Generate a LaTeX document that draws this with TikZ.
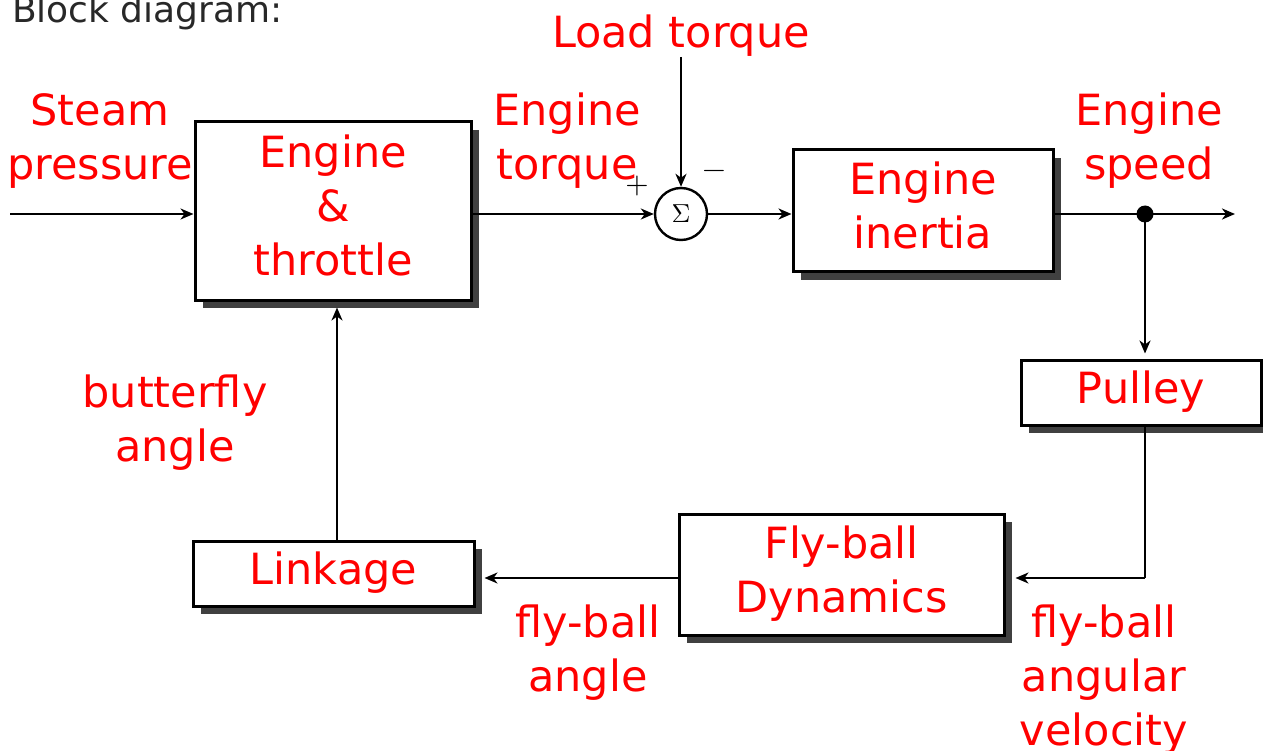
\documentclass[tikz,border=0pt]{standalone}
\usepackage{fontspec}
\setmainfont{DejaVu Sans}
\newfontfamily\lmr[Extension=.otf]{lmroman10-regular}
\usetikzlibrary{arrows.meta,shadows}
\definecolor{lbl}{RGB}{255,0,0}
\definecolor{shd}{RGB}{64,64,64}
\definecolor{ttl}{RGB}{40,40,40}
\begin{document}
\begin{tikzpicture}[x=1pt,y=-1pt,
  blk/.style={draw, line width=3pt, fill=white,
    drop shadow={shadow xshift=8pt, shadow yshift=-8pt, fill=shd, opacity=1},
    text=lbl, font=\fontsize{43}{54}\selectfont, align=center, inner sep=0pt},
  lab/.style={text=lbl, font=\fontsize{43}{54}\selectfont, align=center, inner sep=0pt, anchor=north},
  conn/.style={line width=2.4pt, -{Stealth[length=13pt,width=11pt,inset=4pt]}},
  wire/.style={line width=2.4pt},
  sgn/.style={inner sep=0pt, font=\lmr\fontsize{30}{34}\selectfont}]
\useasboundingbox (0,0) rectangle (1263,751);

\node[anchor=base west, inner sep=0pt, text=ttl, font=\fontsize{36}{42}\selectfont] (title) at (12,23) {Block diagram:};

% blocks
\node[blk, minimum width=276pt, minimum height=178pt] (et) at (333,211)
  {\strut Engine\\\strut\&\\\strut throttle};
\node[blk, minimum width=260pt, minimum height=122pt] (ei) at (923,211)
  {\strut Engine\\\strut inertia};
\node[blk, minimum width=240pt, minimum height=65pt] (pul) at (1141,392.5)
  {\strut Pulley};
\node[blk, minimum width=325pt, minimum height=121pt] (fb) at (841.5,574.5)
  {\strut Fly-ball\\\strut Dynamics};
\node[blk, minimum width=281pt, minimum height=65pt] (lk) at (333.5,573.5)
  {\strut Linkage};

% summing junction
\node[draw, circle, line width=2.4pt, minimum size=52pt, inner sep=0pt,
  font=\lmr\fontsize{26}{30}\selectfont] (sum) at (681,214) {Σ};
\node[sgn] (plus) at (637,186) {+};
\node[sgn] (minus) at (714,174) {−};

% labels
\node[lab] (steam) at (100,87.2) {\strut Steam\\\strut pressure};
\node[lab] (etq) at (567,87.2) {\strut Engine\\\strut torque};
\node[lab] (esp) at (1149,87.2) {\strut Engine\\\strut speed};
\node[lab] (ltq) at (681,9.2) {\strut Load torque};
\node[lab] (bfa) at (175,369.2) {\strut butterfly\\\strut angle};
\node[lab] (fba) at (588,599.2) {\strut fly-ball\\\strut angle};
\node[lab] (fbv) at (1104,599.2) {\strut fly-ball\\\strut angular\\\strut velocity};

% coordinates
\coordinate (in) at (10,214);
\coordinate (out) at (1235,214);
\coordinate (ltop) at (681,57);
\coordinate (corner) at (1145,578);
\coordinate (lkup) at (337,540);
\coordinate (dot) at (1145,214);

% connectors
\draw[conn] (in) -- (et.west |- in);
\draw[conn] (et.east |- sum) -- (sum.west);
\draw[conn] (ltop) -- (sum.north);
\draw[conn] (sum.east) -- (ei.west |- sum);
\draw[conn] (ei.east |- sum) -- (out);
\draw[conn, shorten >=5pt] (dot) -- (dot |- pul.north);
\draw[wire] (dot |- pul.south) -- (corner);
\draw[conn, shorten >=10pt] (corner) -- (fb.east |- corner);
\draw[conn, shorten >=9pt] (fb.west |- corner) -- (lk.east |- corner);
\draw[conn, shorten >=6pt] (lkup) -- (lkup |- et.south);
\fill (dot) circle (8.5pt);
\end{tikzpicture}
\end{document}
